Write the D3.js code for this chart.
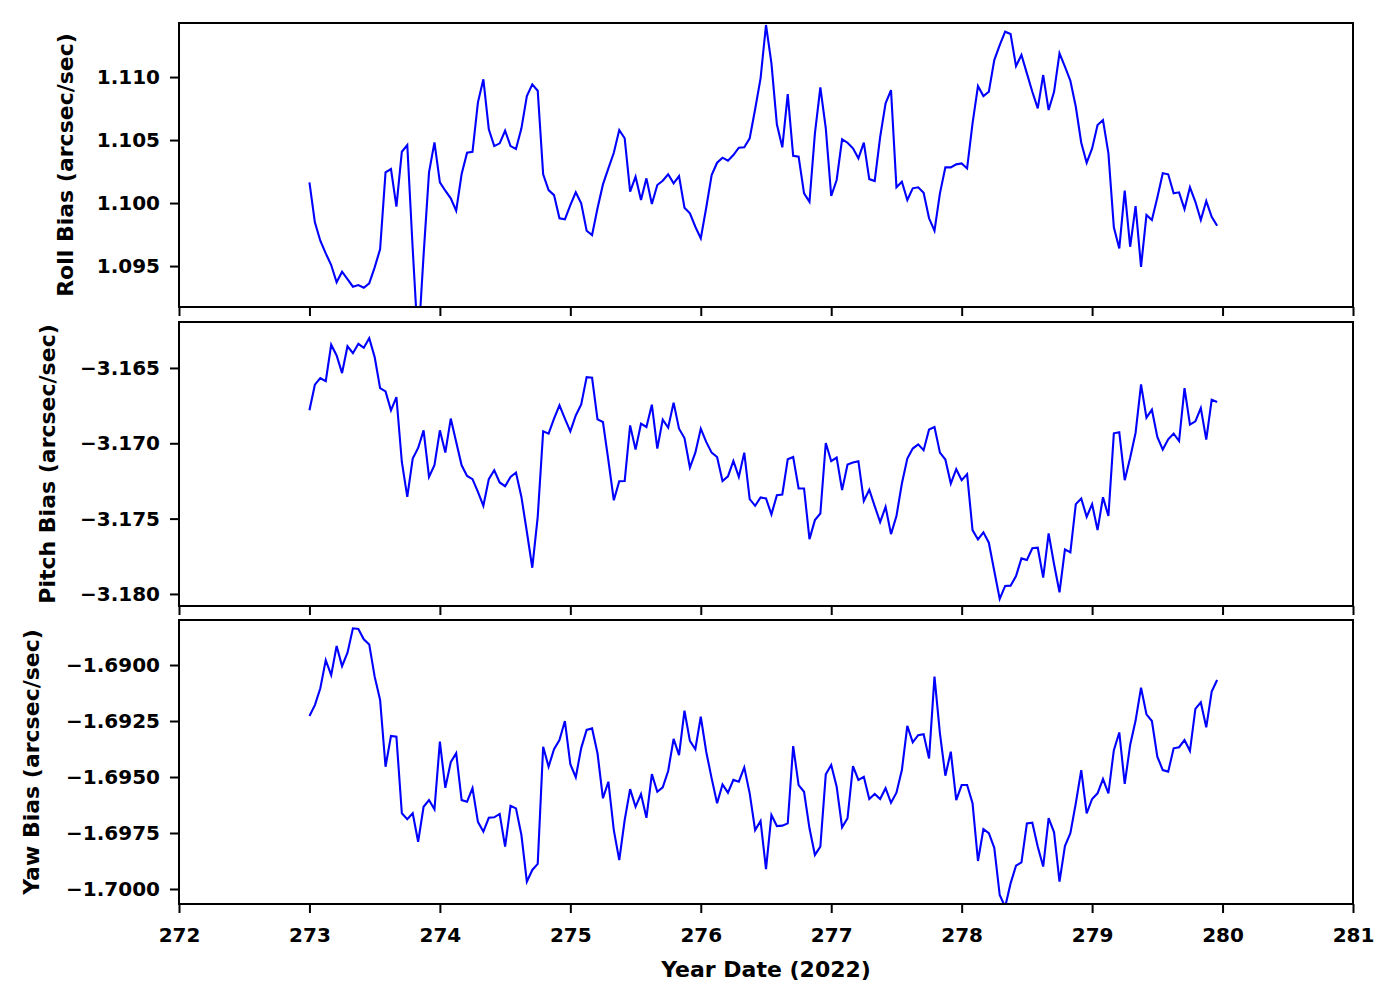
<!DOCTYPE html>
<html><head><meta charset="utf-8">
<script src="https://cdn.jsdelivr.net/npm/d3@7"></script>
<style>
html,body{margin:0;padding:0;background:#fff;}
text{font-family:"DejaVu Sans",sans-serif;font-weight:bold;}
</style></head>
<body>
<svg id="chart" width="1400" height="1000"></svg>
<script>
// Sampling: hourly points starting at day 273 (2022)
const startDay = 273;
const samplesPerDay = 24;

const roll = [
1.10164,1.09847,1.09701,1.09601,1.09508,1.09371,1.09455,1.09397,1.09336,1.09349,
1.09328,1.09363,1.09490,1.09633,1.10244,1.10270,1.09971,1.10407,1.10460,1.09635,
1.08873,1.09587,1.10244,1.10482,1.10164,1.10098,1.10037,1.09939,1.10230,1.10399,
1.10407,1.10799,1.10982,1.10585,1.10452,1.10474,1.10574,1.10452,1.10429,1.10593,
1.10849,1.10942,1.10891,1.10228,1.10103,1.10063,1.09879,1.09871,1.09984,1.10085,
1.09998,1.09780,1.09746,1.09958,1.10148,1.10275,1.10399,1.10579,1.10514,1.10090,
1.10209,1.10024,1.10196,1.09992,1.10143,1.10177,1.10228,1.10156,1.10214,1.09963,
1.09918,1.09812,1.09720,1.09963,1.10222,1.10320,1.10360,1.10336,1.10381,1.10439,
1.10442,1.10514,1.10744,1.10990,1.11413,1.11109,1.10625,1.10442,1.10865,1.10375,
1.10368,1.10077,1.10010,1.10553,1.10918,1.10593,1.10056,1.10183,1.10506,1.10479,
1.10434,1.10355,1.10479,1.10190,1.10175,1.10524,1.10791,1.10897,1.10125,1.10169,
1.10024,1.10117,1.10125,1.10082,1.09879,1.09780,1.10077,1.10283,1.10283,1.10307,
1.10315,1.10275,1.10633,1.10929,1.10849,1.10883,1.11135,1.11254,1.11360,1.11341,
1.11087,1.11175,1.11029,1.10883,1.10752,1.11016,1.10738,1.10883,1.11188,1.11082,
1.10971,1.10764,1.10479,1.10320,1.10434,1.10619,1.10659,1.10394,1.09807,1.09640,
1.10098,1.09653,1.09976,1.09494,1.09905,1.09865,1.10044,1.10236,1.10228,1.10077,
1.10085,1.09952,1.10125,1.10010,1.09865,1.10016,1.09891,1.09820];

const pitch = [
-3.16781,-3.16611,-3.16568,-3.16587,-3.16346,-3.16417,-3.16534,-3.16356,-3.16402,-3.16340,
-3.16366,-3.16303,-3.16428,-3.16634,-3.16656,-3.16781,-3.16693,-3.17124,-3.17356,-3.17101,
-3.17031,-3.16914,-3.17223,-3.17146,-3.16914,-3.17062,-3.16836,-3.16991,-3.17146,-3.17217,
-3.17238,-3.17323,-3.17415,-3.17238,-3.17179,-3.17260,-3.17285,-3.17223,-3.17194,-3.17356,
-3.17587,-3.17826,-3.17488,-3.16921,-3.16936,-3.16836,-3.16748,-3.16836,-3.16921,-3.16815,
-3.16742,-3.16561,-3.16565,-3.16841,-3.16859,-3.17113,-3.17378,-3.17252,-3.17250,-3.16881,
-3.17042,-3.16870,-3.16892,-3.16744,-3.17035,-3.16843,-3.16896,-3.16730,-3.16903,-3.16965,
-3.17161,-3.17062,-3.16903,-3.16991,-3.17062,-3.17091,-3.17250,-3.17219,-3.17117,-3.17223,
-3.17062,-3.17371,-3.17415,-3.17360,-3.17366,-3.17472,-3.17344,-3.17340,-3.17106,-3.17091,
-3.17300,-3.17300,-3.17636,-3.17510,-3.17466,-3.16998,-3.17119,-3.17095,-3.17311,-3.17141,
-3.17128,-3.17119,-3.17382,-3.17308,-3.17417,-3.17523,-3.17422,-3.17603,-3.17483,-3.17267,
-3.17101,-3.17035,-3.17007,-3.17046,-3.16909,-3.16892,-3.17062,-3.17108,-3.17267,-3.17172,
-3.17245,-3.17205,-3.17576,-3.17638,-3.17591,-3.17660,-3.17848,-3.18033,-3.17947,-3.17945,
-3.17881,-3.17764,-3.17775,-3.17697,-3.17693,-3.17892,-3.17598,-3.17803,-3.17989,-3.17704,
-3.17724,-3.17404,-3.17366,-3.17488,-3.17404,-3.17576,-3.17358,-3.17483,-3.16934,-3.16927,
-3.17245,-3.17096,-3.16930,-3.16609,-3.16830,-3.16777,-3.16958,-3.17042,-3.16974,-3.16936,
-3.16985,-3.16634,-3.16876,-3.16854,-3.16766,-3.16976,-3.16711,-3.16726];

const yaw = [
-1.69228,-1.69179,-1.69104,-1.68978,-1.69045,-1.68915,-1.69005,-1.68945,-1.68836,-1.68839,
-1.68885,-1.68908,-1.69052,-1.69156,-1.69454,-1.69317,-1.69320,-1.69662,-1.69688,-1.69662,
-1.69789,-1.69633,-1.69603,-1.69644,-1.69342,-1.69548,-1.69434,-1.69394,-1.69603,-1.69610,
-1.69550,-1.69700,-1.69744,-1.69682,-1.69680,-1.69665,-1.69811,-1.69629,-1.69640,-1.69759,
-1.69967,-1.69915,-1.69888,-1.69365,-1.69454,-1.69376,-1.69335,-1.69250,-1.69443,-1.69501,
-1.69371,-1.69290,-1.69283,-1.69394,-1.69595,-1.69521,-1.69737,-1.69871,-1.69692,-1.69554,
-1.69633,-1.69576,-1.69682,-1.69487,-1.69566,-1.69546,-1.69473,-1.69330,-1.69402,-1.69204,
-1.69339,-1.69376,-1.69231,-1.69387,-1.69506,-1.69617,-1.69533,-1.69570,-1.69513,-1.69521,
-1.69457,-1.69573,-1.69737,-1.69696,-1.69911,-1.69670,-1.69719,-1.69717,-1.69707,-1.69362,
-1.69536,-1.69566,-1.69729,-1.69848,-1.69811,-1.69488,-1.69446,-1.69543,-1.69725,-1.69684,
-1.69451,-1.69513,-1.69499,-1.69598,-1.69576,-1.69598,-1.69550,-1.69615,-1.69570,-1.69469,
-1.69272,-1.69345,-1.69313,-1.69309,-1.69417,-1.69052,-1.69305,-1.69494,-1.69387,-1.69603,
-1.69536,-1.69536,-1.69617,-1.69875,-1.69733,-1.69751,-1.69816,-1.70027,-1.70080,-1.69975,
-1.69896,-1.69881,-1.69707,-1.69704,-1.69811,-1.69900,-1.69684,-1.69747,-1.69967,-1.69808,
-1.69751,-1.69617,-1.69469,-1.69662,-1.69598,-1.69573,-1.69509,-1.69573,-1.69380,-1.69301,
-1.69531,-1.69357,-1.69248,-1.69101,-1.69220,-1.69250,-1.69409,-1.69469,-1.69476,-1.69372,
-1.69367,-1.69335,-1.69384,-1.69196,-1.69167,-1.69278,-1.69119,-1.69067];

const xTicks = [272,273,274,275,276,277,278,279,280,281];
const rollTicks = [1.095,1.100,1.105,1.110];
const pitchTicks = [-3.180,-3.175,-3.170,-3.165];
const yawTicks = [-1.7000,-1.6975,-1.6950,-1.6925,-1.6900];
const panelLabels = ["Roll Bias (arcsec/sec)","Pitch Bias (arcsec/sec)","Yaw Bias (arcsec/sec)"];
const xLabel = "Year Date (2022)";

const panels = [
  {label: panelLabels[0], values: roll,  domain:[1.09175,1.11429], ticks: rollTicks,  fmt: d3.format(".3f"), top:23,  labelX:65},
  {label: panelLabels[1], values: pitch, domain:[-3.18080,-3.16195], ticks: pitchTicks, fmt: d3.format(".3f"), top:322, labelX:47},
  {label: panelLabels[2], values: yaw,   domain:[-1.70067,-1.68799], ticks: yawTicks,   fmt: d3.format(".4f"), top:620, labelX:31}
];

const left = 179, right = 1353, panelH = 284;
const tickFont = 20, labelFont = 22;
const svg = d3.select("#chart");
const x = d3.scaleLinear().domain([272,281]).range([left,right]);

panels.forEach((p,i) => {
  const y = d3.scaleLinear().domain(p.domain).range([p.top+panelH, p.top]);
  const g = svg.append("g");
  const clipId = "clip"+i;
  svg.append("clipPath").attr("id",clipId).append("rect")
    .attr("x",left).attr("y",p.top).attr("width",right-left).attr("height",panelH);
  const data = p.values.map((v,k)=>({t: startDay + k/samplesPerDay, v}));
  g.append("path").datum(data)
    .attr("clip-path","url(#"+clipId+")")
    .attr("fill","none").attr("stroke","#0000ff").attr("stroke-width",2.1)
    .attr("stroke-linejoin","miter")
    .attr("d", d3.line().x(d=>x(d.t)).y(d=>y(d.v)));
  // frame
  g.append("rect").attr("x",left).attr("y",p.top).attr("width",right-left).attr("height",panelH)
    .attr("fill","none").attr("stroke","#000").attr("stroke-width",2);
  // y axis
  const ya = g.append("g").attr("transform",`translate(${left},0)`)
    .call(d3.axisLeft(y).tickValues(p.ticks).tickFormat(d=>p.fmt(d).replace("-","\u2212")).tickSize(9).tickPadding(10));
  ya.select(".domain").remove();
  ya.selectAll("line").attr("stroke","#000").attr("stroke-width",2);
  ya.selectAll("text").attr("font-size",tickFont).attr("fill","#000").style("font-family","DejaVu Sans").style("font-weight","bold");
  // x axis
  const xa = g.append("g").attr("transform",`translate(0,${p.top+panelH})`)
    .call(d3.axisBottom(x).tickValues(xTicks).tickFormat(i===2? d3.format("d") : ()=>"").tickSize(9).tickPadding(15));
  xa.select(".domain").remove();
  xa.selectAll("line").attr("stroke","#000").attr("stroke-width",2);
  xa.selectAll("text").attr("font-size",tickFont).attr("fill","#000").style("font-family","DejaVu Sans").style("font-weight","bold");
  // y label
  svg.append("text").attr("transform",`translate(${p.labelX},${p.top+panelH/2}) rotate(-90)`)
    .attr("text-anchor","middle").attr("dominant-baseline","central")
    .attr("font-size",labelFont).text(p.label);
});

svg.append("text").attr("x",(left+right)/2).attr("y",969).attr("text-anchor","middle")
  .attr("dominant-baseline","central").attr("font-size",labelFont).text(xLabel);
</script>
</body></html>
